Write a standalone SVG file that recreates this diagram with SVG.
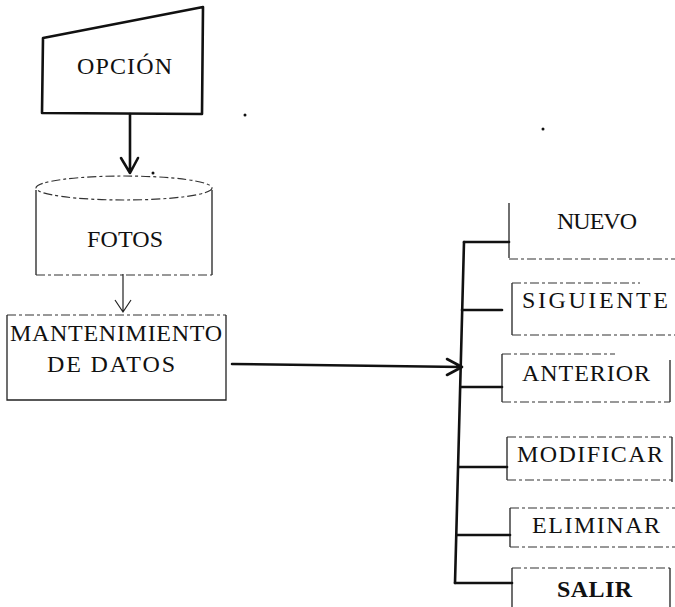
<svg xmlns="http://www.w3.org/2000/svg" width="675" height="607" viewBox="0 0 675 607">
<style>
.t{font-family:"Liberation Serif","DejaVu Serif",serif;font-size:24px;fill:#111}
.b{fill:none;stroke:#222;stroke-width:1.3}
.d{fill:none;stroke:#333;stroke-width:1.2;stroke-dasharray:9 3 3 3}
.c{fill:none;stroke:#111;stroke-width:2.6;stroke-linecap:round;stroke-linejoin:round}
.thin{fill:none;stroke:#222;stroke-width:1.2}
</style>
<rect width="675" height="607" fill="#fff"/>
<g id="opcion">
<polygon points="43,38 203,7 202,114 42,113" fill="#fff" stroke="#111" stroke-width="2.6" stroke-linejoin="round"/>
<text class="t" x="77" y="74" textLength="95" lengthAdjust="spacing">OPCIÓN</text>
</g>
<g id="fotos">
<ellipse class="d" cx="124" cy="188" rx="88" ry="12"/>
<path class="b" d="M36,190 V275 M212,190 V275"/>
<path class="d" d="M36,275 H212"/>
<text class="t" x="87" y="247" textLength="76" lengthAdjust="spacing">FOTOS</text>
</g>
<g id="mantenimiento">
<path class="d" d="M7,315 H226"/>
<path class="b" d="M7,315 V400 H226 V315"/>
<text class="t" x="10" y="341" textLength="212" lengthAdjust="spacing">MANTENIMIENTO</text>
<text class="t" x="47" y="372" textLength="128" lengthAdjust="spacing">DE DATOS</text>
</g>
<g id="nuevo">
<path class="b" d="M509,203 V258"/>
<path class="d" d="M509,259 H675"/>
<text class="t" x="557" y="229" textLength="80" lengthAdjust="spacing">NUEVO</text>
</g>
<g id="siguiente">
<path class="b" d="M512,283 V335"/>
<path class="d" d="M512,283 H640" stroke-dasharray="1 14"/>
<path class="d" d="M512,335 H675"/>
<text class="t" x="522" y="308" textLength="146" lengthAdjust="spacing">SIGUIENTE</text>
</g>
<g id="anterior">
<path class="d" d="M502,354 H615"/>
<path class="b" d="M502,354 V402 M670,360 V402"/>
<path class="d" d="M502,402 H670"/>
<text class="t" x="522" y="381" textLength="128" lengthAdjust="spacing">ANTERIOR</text>
</g>
<g id="modificar">
<path class="d" d="M507,437 H672" stroke-dasharray="2 10"/>
<path class="b" d="M507,437 V480 M672,437 V482"/>
<path class="d" d="M507,480 H672"/>
<text class="t" x="517" y="462" textLength="146" lengthAdjust="spacing">MODIFICAR</text>
</g>
<g id="eliminar">
<path class="d" d="M510,508 H675"/>
<path class="b" d="M510,508 V547"/>
<path class="d" d="M510,547 H675"/>
<text class="t" x="532" y="533" textLength="128" lengthAdjust="spacing">ELIMINAR</text>
</g>
<g id="salir">
<path class="d" d="M512,568 H670"/>
<path class="b" d="M512,568 V607 M670,568 V607"/>
<text class="t" x="557" y="597" textLength="75" lengthAdjust="spacing" font-size="27" font-weight="bold">SALIR</text>
</g>
<g id="connectors">
<path class="c" d="M130,114 V173 M121,158 L130,173 L138,158"/>
<path class="thin" d="M123,274 V312 M115,300 L123,312 L131,300"/>
<path class="c" d="M232,364 L462,367 M447,359 L462,367 L447,375"/>
<path class="c" d="M464,242 L455,583"/>
<path class="c" d="M464,242 H509"/>
<path class="c" d="M462,310 H502"/>
<path class="c" d="M461,387 H502"/>
<path class="c" d="M459,467 H507"/>
<path class="c" d="M457,535 H510"/>
<path class="c" d="M455,583 H512"/>
</g>
<g id="specks" fill="#111">
<circle cx="245" cy="115" r="1.5"/>
<circle cx="153" cy="173" r="1.5"/>
<circle cx="543" cy="129" r="1.5"/>
</g>
</svg>
